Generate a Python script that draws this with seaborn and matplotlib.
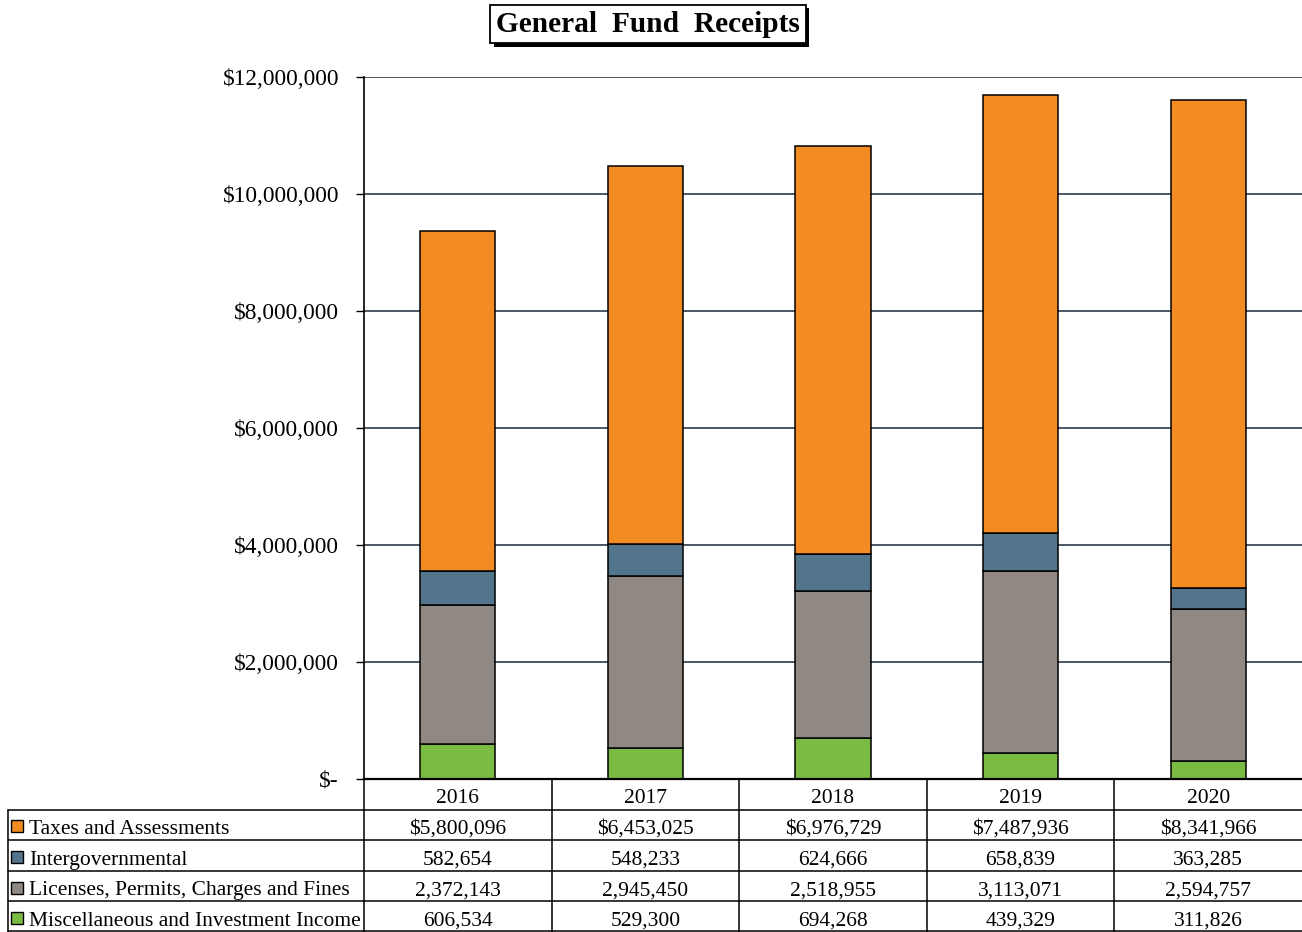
import numpy as np
import matplotlib
matplotlib.use("Agg")
import matplotlib.pyplot as plt
import matplotlib.patheffects as pe
from matplotlib.ticker import FuncFormatter
import seaborn as sns

# ---- data ----
years = ["2016", "2017", "2018", "2019", "2020"]
taxes = [5800096, 6453025, 6976729, 7487936, 8341966]
intergov = [582654, 548233, 624666, 658839, 363285]
licenses = [2372143, 2945450, 2518955, 3113071, 2594757]
misc = [606534, 529300, 694268, 439329, 311826]

series_names = [
    "Taxes and Assessments",
    "Intergovernmental",
    "Licenses, Permits, Charges and Fines",
    "Miscellaneous and Investment Income",
]
series_values = [taxes, intergov, licenses, misc]
series_colors = ["#F18B22", "#52758C", "#908983", "#7ABC42"]

y_ticks = [0, 2000000, 4000000, 6000000, 8000000, 10000000, 12000000]

# ---- style ----
sns.set_theme(style="white")
plt.rcParams["font.family"] = ["Liberation Serif", "DejaVu Serif"]
plt.rcParams["text.color"] = "black"

W, H = 1302, 932
fig = plt.figure(figsize=(W / 100, H / 100), dpi=100)
fig.patch.set_facecolor("white")

ax_l, ax_r, ax_t, ax_b = 364, 1302, 77, 779
ax = fig.add_axes([ax_l / W, 1 - ax_b / H, (ax_r - ax_l) / W, (ax_b - ax_t) / H])

# stacked bars, bottom layer first
bottom = np.zeros(len(years))
for vals, col in reversed(list(zip(series_values, series_colors))):
    sns.barplot(x=years, y=vals, bottom=bottom, color=col, saturation=1,
                width=0.4, edgecolor="black", linewidth=1.1, errorbar=None, ax=ax)
    bottom += np.array(vals)

ax.set_xlim(-0.5, len(years) - 0.5)
ax.set_ylim(0, 12000000)
ax.set_yticks(y_ticks)
ax.yaxis.set_major_formatter(FuncFormatter(lambda v, p: "$-" if v == 0 else f"${v:,.0f}"))
ax.set_xticks([])
ax.set_xlabel("")
ax.set_ylabel("")
ax.grid(axis="y", color="#1B2A3A", linewidth=1.1)
ax.set_axisbelow(True)
for s in ["top", "right"]:
    ax.spines[s].set_visible(False)
ax.spines["left"].set_color("black")
ax.spines["left"].set_linewidth(1.2)
ax.spines["bottom"].set_color("black")
ax.spines["bottom"].set_linewidth(1.6)
ax.tick_params(axis="y", left=True, direction="out", length=6, width=1,
               color="black", labelsize=16.8, pad=12, labelcolor="black")
for lbl in ax.get_yticklabels():
    lbl.set_verticalalignment("center_baseline")

# ---- data table beneath the bars ----
unit_px = (ax_r - ax_l) / len(years)


def to_u(px):
    return -0.5 + (px - ax_l) / unit_px


tab_left = 8
tab = fig.add_axes([tab_left / W, 0, (W - tab_left) / W, (H - ax_b) / H])
tab.set_xlim(to_u(tab_left), len(years) - 0.5)
tab.set_ylim(5, 0)
tab.axis("off")

line_kw = dict(color="black", linewidth=1.1, clip_on=False)
for i in range(len(years)):
    tab.plot([i - 0.5, i - 0.5], [0, 5], **line_kw)
tab.plot([to_u(tab_left), to_u(tab_left)], [1, 5], **line_kw)
for r in range(1, 6):
    tab.plot([to_u(tab_left), len(years) - 0.5], [min(r, 4.97), min(r, 4.97)], **line_kw)

fs = 15.5
dy = 0.15
for i, yr in enumerate(years):
    tab.text(i, 0.5 + dy, yr, ha="center", va="center", fontsize=fs)

for r, (name, vals, col) in enumerate(zip(series_names, series_values, series_colors), start=1):
    yc = r + 0.5
    tab.plot([to_u(17)], [yc + 0.05], marker="s", markersize=8, markerfacecolor=col,
             markeredgecolor="black", markeredgewidth=1, linestyle="none", clip_on=False)
    tab.text(to_u(29), yc + dy, name, ha="left", va="center", fontsize=fs)
    for i, v in enumerate(vals):
        label = f"${v:,}" if r == 1 else f"{v:,}"
        tab.text(i, yc + dy, label, ha="center", va="center", fontsize=fs)

# ---- boxed title with drop shadow ----
t = fig.text(648 / W, 1 - 24 / H, "General  Fund  Receipts", ha="center", va="center",
             fontsize=21.2, fontweight="bold",
             bbox=dict(boxstyle="square,pad=0.2", fc="white", ec="black", lw=1.3))
t.get_bbox_patch().set_path_effects(
    [pe.withSimplePatchShadow(offset=(2.5, -2.5), shadow_rgbFace="black", alpha=1.0)])

fig.savefig("out.png", dpi=100, facecolor="white")
